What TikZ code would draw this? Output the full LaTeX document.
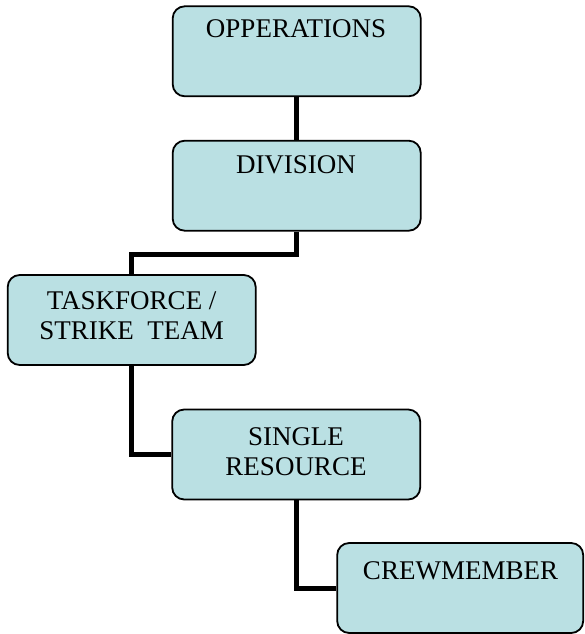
\documentclass[tikz,border=0pt]{standalone}
\usepackage{fontspec}
\setmainfont{Liberation Serif}
\definecolor{boxfill}{RGB}{186,224,227}
\begin{document}
\begin{tikzpicture}[x=1pt,y=-1pt,
  box/.style={draw=black,line width=1.8pt,fill=boxfill,rounded corners=12pt,
    minimum width=248pt,minimum height=90pt,inner sep=0pt},
  lbl/.style={anchor=base,align=center,inner sep=0pt,font=\fontsize{27}{30}\selectfont},
  conn/.style={line width=5pt,draw=black}]
\useasboundingbox (0,0) rectangle (584,634);
\node[box] (ops) at (296.7,51.3) {};
\node[box] (div) at (296.7,185.7) {};
\node[box] (task) at (131.7,320) {};
\node[box] (single) at (296.2,454.5) {};
\node[box,minimum width=246pt] (crew) at (460.2,588) {};
\node[lbl] (tops) at (296,37.3) {OPPERATIONS};
\node[lbl] (tdiv) at (296,173.3) {DIVISION};
\node[lbl] (ttask) at (131.7,339) {TASKFORCE /\\STRIKE\ \ TEAM};
\node[lbl] (tsingle) at (296,475) {SINGLE\\RESOURCE};
\node[lbl] (tcrew) at (460.5,579) {CREWMEMBER};
\coordinate (j1) at (296.7,254);
\draw[conn] (ops.south) -- (div.north);
\draw[conn] (div.south) -- (j1) -| (task.north);
\draw[conn] (task.south) |- (single.west);
\draw[conn] (single.south) |- (crew.west);
\end{tikzpicture}
\end{document}
